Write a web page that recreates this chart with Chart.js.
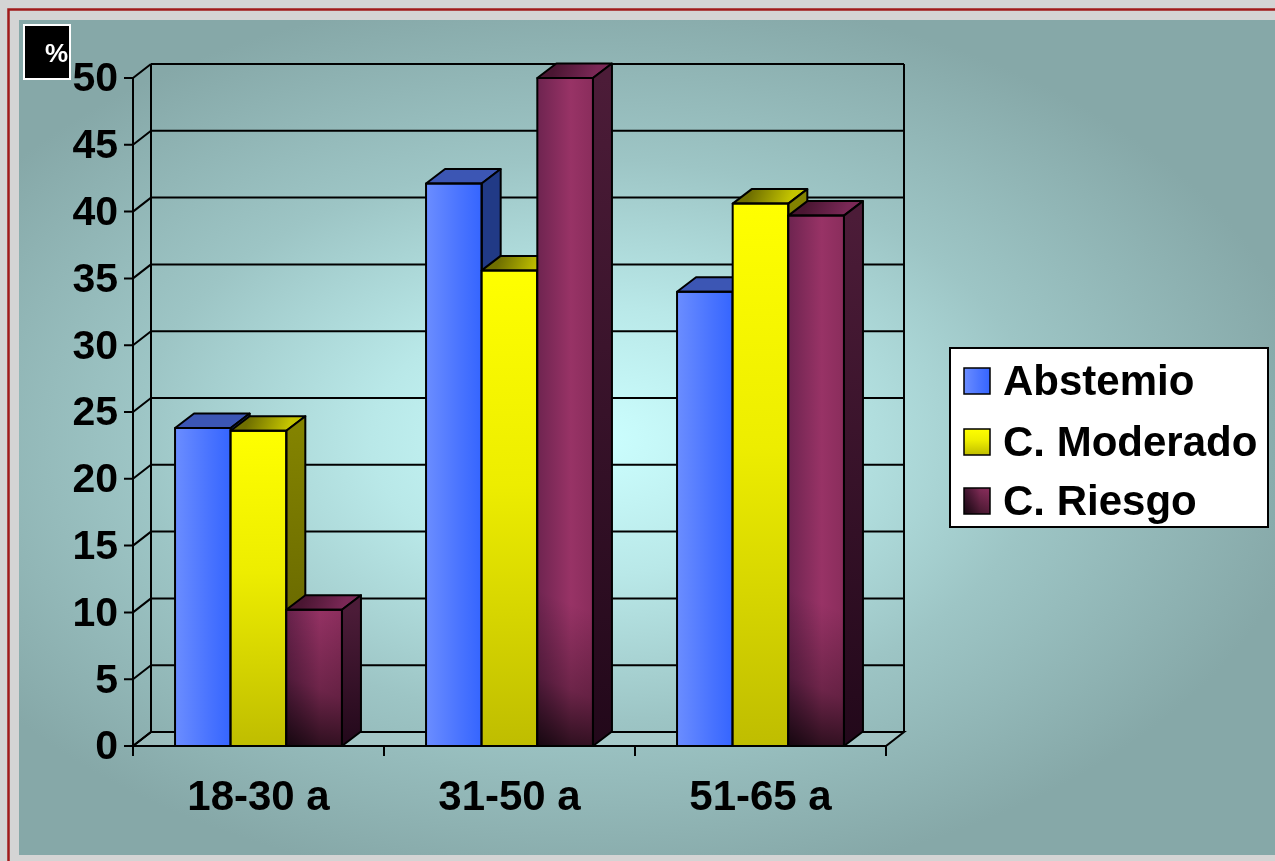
<!DOCTYPE html>
<html>
<head>
<meta charset="utf-8">
<script src="https://cdn.jsdelivr.net/npm/chart.js@4/dist/chart.umd.min.js"></script>
<style>
  html, body { margin: 0; padding: 0; background: #d4d4d4; overflow: hidden; }
  canvas { display: block; }
</style>
</head>
<body>
<canvas id="c" width="1275" height="861"></canvas>
<script>
// Age groups and percentage of each drinking profile
const categories = ['18-30 a', '31-50 a', '51-65 a'];
const seriesNames = ['Abstemio', 'C. Moderado', 'C. Riesgo'];
const abstemio = [23.8, 42.1, 34.0];
const moderado = [23.6, 35.6, 40.6];
const riesgo   = [10.2, 50.0, 39.7];
const yTicks = [0, 5, 10, 15, 20, 25, 30, 35, 40, 45, 50];
const unitLabel = '%';

const FONT = '"Liberation Sans", Arial, Helvetica, sans-serif';
const WALL_DX = 18, WALL_DY = 14;   // depth of the walls / floor
const BAR_DX = 19, BAR_DY = 14.5;   // depth of each column

// ---- fills for the three faces of each column ----
const palettes = [
  { // blue
    front(ctx, x0, x1, yt, yb) {
      const g = ctx.createLinearGradient(x0, 0, x1, 0);
      g.addColorStop(0, '#6b8dff'); g.addColorStop(0.6, '#4a74ff'); g.addColorStop(1, '#3565ff');
      return g;
    },
    top() { return '#3c56b4'; },
    side() { return '#213a86'; },
    shade: null
  },
  { // yellow
    front(ctx, x0, x1, yt, yb) {
      const g = ctx.createLinearGradient(0, yt, 0, yb);
      g.addColorStop(0, '#ffff00'); g.addColorStop(0.45, '#eded00'); g.addColorStop(1, '#bfbd00');
      return g;
    },
    top(ctx, x0, x1, yt) {
      const g = ctx.createLinearGradient(x0 + BAR_DX, yt - BAR_DY, x1, yt);
      g.addColorStop(0, '#6f6f00'); g.addColorStop(1, '#c4c400');
      return g;
    },
    side(ctx, x1, yt, yb) {
      const g = ctx.createLinearGradient(0, yt, 0, yb);
      g.addColorStop(0, '#838300'); g.addColorStop(1, '#5a5a00');
      return g;
    },
    shade: null
  },
  { // maroon
    front(ctx, x0, x1, yt, yb) {
      const g = ctx.createLinearGradient(x0, 0, x1, 0);
      g.addColorStop(0, '#6e2450'); g.addColorStop(0.6, '#983366'); g.addColorStop(1, '#8a2d5c');
      return g;
    },
    top(ctx, x0, x1, yt) {
      const g = ctx.createLinearGradient(x0 + BAR_DX, yt - BAR_DY, x1, yt);
      g.addColorStop(0, '#4a1632'); g.addColorStop(1, '#7a2856');
      return g;
    },
    side(ctx, x1, yt, yb) {
      const g = ctx.createLinearGradient(0, yt, 0, yb);
      g.addColorStop(0, '#4c1c38'); g.addColorStop(1, '#22081a');
      return g;
    },
    shade: true
  }
];

function drawColumn(ctx, el, pal) {
  const w = el.width;
  const x0 = el.x - w / 2, x1 = el.x + w / 2;
  const yt = el.y, yb = el.base;

  // front face
  ctx.fillStyle = pal.front(ctx, x0, x1, yt, yb);
  ctx.fillRect(x0, yt, w, yb - yt);
  if (pal.shade) {
    const s = ctx.createLinearGradient(x0, yb, x1, yb - 2.4 * w);
    s.addColorStop(0, 'rgba(0,0,0,0.8)');
    s.addColorStop(0.45, 'rgba(0,0,0,0.28)');
    s.addColorStop(1, 'rgba(0,0,0,0)');
    ctx.fillStyle = s;
    ctx.fillRect(x0, yt, w, yb - yt);
  }

  // top face
  ctx.beginPath();
  ctx.moveTo(x0, yt); ctx.lineTo(x1, yt);
  ctx.lineTo(x1 + BAR_DX, yt - BAR_DY); ctx.lineTo(x0 + BAR_DX, yt - BAR_DY);
  ctx.closePath();
  ctx.fillStyle = pal.top(ctx, x0, x1, yt);
  ctx.fill();
  ctx.stroke();

  // side face
  ctx.beginPath();
  ctx.moveTo(x1, yt); ctx.lineTo(x1 + BAR_DX, yt - BAR_DY);
  ctx.lineTo(x1 + BAR_DX, yb - BAR_DY); ctx.lineTo(x1, yb);
  ctx.closePath();
  ctx.fillStyle = pal.side(ctx, x1, yt, yb);
  ctx.fill();
  ctx.stroke();

  ctx.strokeRect(x0, yt, w, yb - yt);
}

const scenePlugin = {
  id: 'scene',
  beforeDraw(chart) {
    const ctx = chart.ctx, W = chart.width, H = chart.height;
    ctx.save();
    ctx.fillStyle = '#d4d4d4';
    ctx.fillRect(0, 0, W, H);
    // thin red frame
    ctx.strokeStyle = '#a01a1a';
    ctx.lineWidth = 2.5;
    ctx.strokeRect(8.5, 9.5, W + 40, H + 40);
    // panel with soft radial glow
    const px = 19, py = 20, pw = W - 19, ph = 835;
    const cx = 590, cy = 440, sy = 0.62;
    ctx.beginPath(); ctx.rect(px, py, pw, ph); ctx.clip();
    ctx.translate(cx, cy); ctx.scale(1, sy);
    const g = ctx.createRadialGradient(0, 0, 0, 0, 0, 730);
    g.addColorStop(0, '#ccffff');
    g.addColorStop(0.3, '#b9e8e8');
    g.addColorStop(0.62, '#9dc5c5');
    g.addColorStop(1, '#86a8a8');
    ctx.fillStyle = g;
    ctx.fillRect(px - cx, (py - cy) / sy, pw, ph / sy);
    ctx.restore();
  },
  beforeDatasetsDraw(chart) {
    const ctx = chart.ctx, a = chart.chartArea, ys = chart.scales.y;
    const L = a.left, R = a.right, B = ys.getPixelForValue(0), T = ys.getPixelForValue(yTicks[yTicks.length - 1]);
    ctx.save();
    ctx.strokeStyle = '#000';
    ctx.lineWidth = 2;
    ctx.lineCap = 'butt';

    // floor
    ctx.beginPath();
    ctx.moveTo(L, B); ctx.lineTo(R, B); ctx.lineTo(R + WALL_DX, B - WALL_DY); ctx.lineTo(L + WALL_DX, B - WALL_DY);
    ctx.closePath();
    ctx.fillStyle = 'rgba(225,245,245,0.18)';
    ctx.fill();
    ctx.stroke();

    // back wall gridlines, side wall diagonals and tick marks
    yTicks.forEach(v => {
      const y = ys.getPixelForValue(v);
      ctx.beginPath();
      ctx.moveTo(L + WALL_DX, y - WALL_DY); ctx.lineTo(R + WALL_DX, y - WALL_DY);
      ctx.moveTo(L, y); ctx.lineTo(L + WALL_DX, y - WALL_DY);
      ctx.moveTo(L - 9, y); ctx.lineTo(L, y);
      ctx.stroke();
    });
    // wall verticals
    ctx.beginPath();
    ctx.moveTo(L, T); ctx.lineTo(L, B);
    ctx.moveTo(L + WALL_DX, T - WALL_DY); ctx.lineTo(L + WALL_DX, B - WALL_DY);
    ctx.moveTo(R + WALL_DX, T - WALL_DY); ctx.lineTo(R + WALL_DX, B - WALL_DY);
    ctx.stroke();

    // category ticks under the floor
    const xs = chart.scales.x;
    const step = (R - L) / categories.length;
    ctx.beginPath();
    for (let i = 0; i <= categories.length; i++) {
      const x = i < categories.length ? xs.getPixelForValue(i) - step / 2 : xs.getPixelForValue(i - 1) + step / 2;
      ctx.moveTo(x, B); ctx.lineTo(x, B + 10);
    }
    ctx.stroke();
    ctx.restore();
  },
  afterDatasetsDraw(chart) {
    const ctx = chart.ctx;
    ctx.save();
    ctx.strokeStyle = '#000';
    ctx.lineWidth = 2;
    ctx.lineJoin = 'round';
    for (let i = 0; i < categories.length; i++) {
      chart.data.datasets.forEach((ds, d) => {
        const el = chart.getDatasetMeta(d).data[i];
        drawColumn(ctx, el, palettes[d]);
      });
    }
    ctx.restore();
  },
  afterDraw(chart) {
    const ctx = chart.ctx, a = chart.chartArea, ys = chart.scales.y, xs = chart.scales.x;
    ctx.save();
    ctx.fillStyle = '#000';
    ctx.font = 'bold 41px ' + FONT;

    // value axis labels
    ctx.textAlign = 'right';
    ctx.textBaseline = 'middle';
    yTicks.forEach(v => ctx.fillText(String(v), a.left - 15, ys.getPixelForValue(v) + 2));

    // category labels
    ctx.font = 'bold 42px ' + FONT;
    ctx.textAlign = 'center';
    ctx.textBaseline = 'alphabetic';
    categories.forEach((c, i) => ctx.fillText(c, xs.getPixelForValue(i), 810));

    // unit box
    ctx.fillStyle = '#000';
    ctx.fillRect(24, 25, 46, 54);
    ctx.strokeStyle = '#fff';
    ctx.lineWidth = 2;
    ctx.strokeRect(24, 25, 46, 54);
    ctx.fillStyle = '#fff';
    ctx.font = 'bold 26px ' + FONT;
    ctx.textAlign = 'right';
    ctx.fillText(unitLabel, 68, 62);

    // legend
    const lx = 950, ly = 348, lw = 318, lh = 179;
    ctx.fillStyle = '#fff';
    ctx.fillRect(lx, ly, lw, lh);
    ctx.strokeStyle = '#000';
    ctx.lineWidth = 2;
    ctx.strokeRect(lx, ly, lw, lh);
    ctx.font = 'bold 42px ' + FONT;
    ctx.textAlign = 'left';
    const rows = [395, 456, 515];
    chart.data.datasets.forEach((ds, d) => {
      const base = rows[d];
      const sx = 964, sy = base - 27, s = 26;
      const pal = palettes[d];
      ctx.fillStyle = pal.front(ctx, sx, sx + s, sy, sy + s);
      ctx.fillRect(sx, sy, s, s);
      if (pal.shade) {
        const g = ctx.createLinearGradient(sx, sy + s, sx + s, sy);
        g.addColorStop(0, 'rgba(0,0,0,0.8)'); g.addColorStop(1, 'rgba(0,0,0,0)');
        ctx.fillStyle = g;
        ctx.fillRect(sx, sy, s, s);
      }
      ctx.lineWidth = 1.5;
      ctx.strokeRect(sx, sy, s, s);
      ctx.fillStyle = '#000';
      ctx.fillText(ds.label, 1003, base);
    });
    ctx.restore();
  }
};

new Chart(document.getElementById('c'), {
  type: 'bar',
  data: {
    labels: categories,
    datasets: [
      { label: seriesNames[0], data: abstemio },
      { label: seriesNames[1], data: moderado },
      { label: seriesNames[2], data: riesgo }
    ].map(ds => Object.assign(ds, {
      backgroundColor: 'rgba(0,0,0,0)', borderWidth: 0,
      categoryPercentage: 0.665, barPercentage: 1
    }))
  },
  options: {
    responsive: false,
    animation: false,
    devicePixelRatio: 1,
    layout: { padding: { left: 133, top: 78, right: 389, bottom: 115 } },
    plugins: { legend: { display: false }, tooltip: { enabled: false } },
    scales: {
      x: { display: false, offset: true },
      y: { display: false, min: 0, max: 50 }
    }
  },
  plugins: [scenePlugin]
});
</script>
</body>
</html>
